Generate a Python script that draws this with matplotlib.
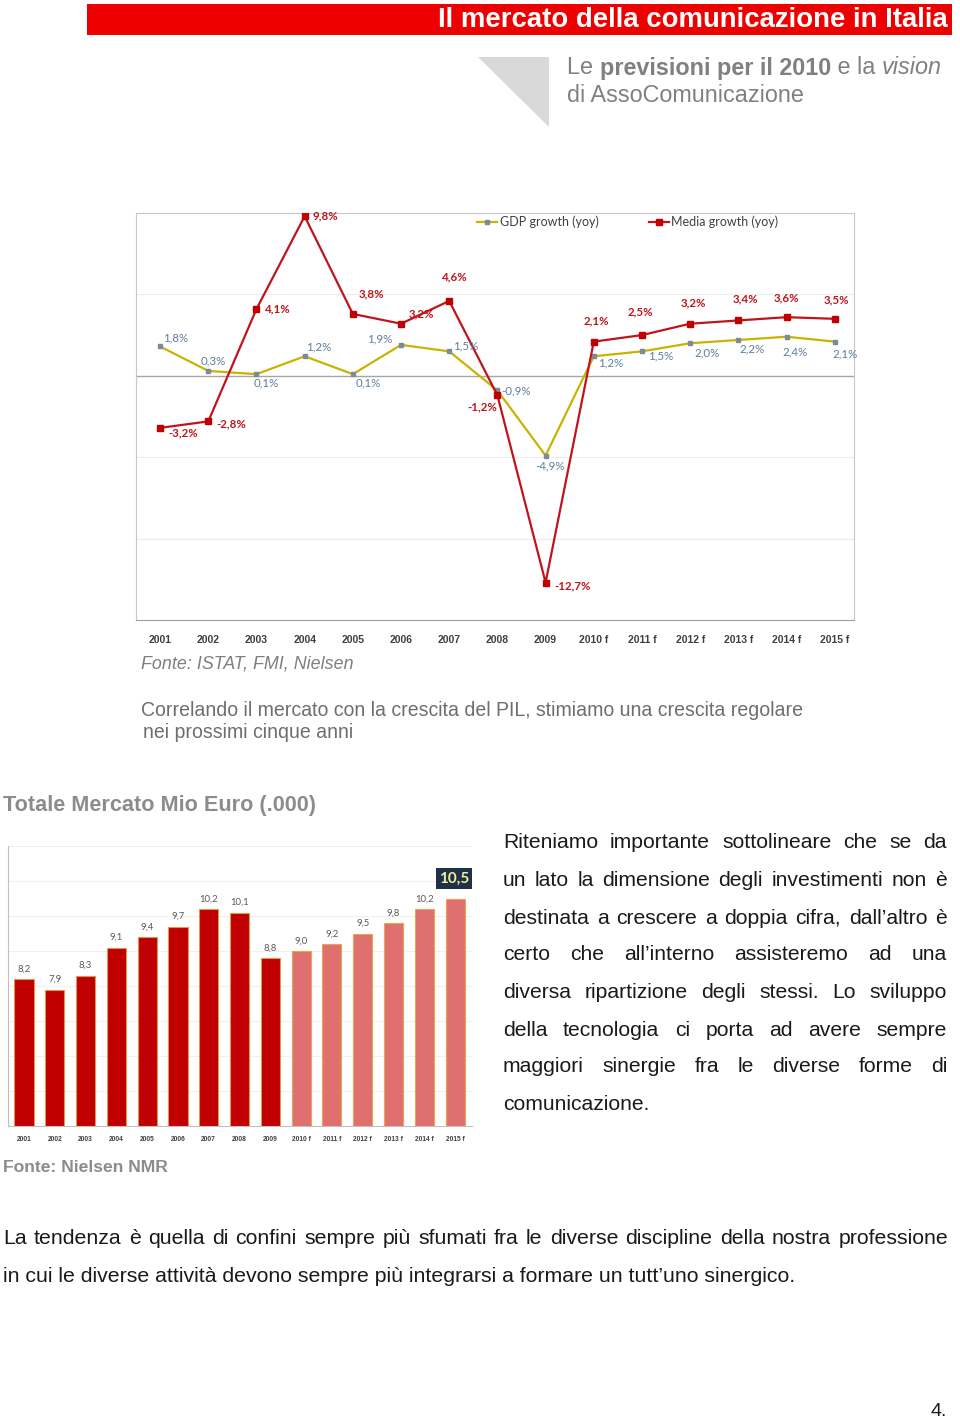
import matplotlib
matplotlib.use("Agg")
import matplotlib.pyplot as plt
from matplotlib import font_manager
from matplotlib.patches import Rectangle, Polygon

# ---------------- data ----------------
years = ["2001", "2002", "2003", "2004", "2005", "2006", "2007", "2008", "2009",
         "2010 f", "2011 f", "2012 f", "2013 f", "2014 f", "2015 f"]
gdp_growth = [1.8, 0.3, 0.1, 1.2, 0.1, 1.9, 1.5, -0.9, -4.9, 1.2, 1.5, 2.0, 2.2, 2.4, 2.1]
media_growth = [-3.2, -2.8, 4.1, 9.8, 3.8, 3.2, 4.6, -1.2, -12.7, 2.1, 2.5, 3.2, 3.4, 3.6, 3.5]
market_values = [8.2, 7.9, 8.3, 9.1, 9.4, 9.7, 10.2, 10.1, 8.8, 9.0, 9.2, 9.5, 9.8, 10.2, 10.5]
n_actual = 9

# label offsets (pixels) for annotations
gdp_off = [(15, 9), (5, 10), (10, -9), (14, 9), (15, -9), (-21, 6), (16, 5), (19, 0), (4, -10),
           (17, -7), (19, -5), (17, -10), (14, -9), (8, -15), (10, -12)]
media_off = [(23, -5), (23, -2), (21, 0), (21, 0), (19, 20), (20, 10), (6, 24), (-15, -12), (27, -3),
             (3, 21), (-2, 23), (3, 21), (7, 22), (0, 19), (2, 19)]

W, H = 960, 1423
fig = plt.figure(figsize=(W / 100, H / 100), dpi=100)
fig.patch.set_facecolor("white")

names = {f.name for f in font_manager.fontManager.ttflist}
NARROW = "Liberation Sans Narrow" if "Liberation Sans Narrow" in names else "Liberation Sans"
SANS = "Liberation Sans"
CAL = "Lato" if "Lato" in names else "DejaVu Sans"

bg = fig.add_axes([0, 0, 1, 1])
bg.set_xlim(0, W)
bg.set_ylim(H, 0)
bg.axis("off")
bg.set_zorder(-1)

renderer = fig.canvas.get_renderer()


def fit_text(x, y, s, width, ha="left", **kw):
    t = bg.text(x, y, s, fontsize=10, ha=ha, **kw)
    w = t.get_window_extent(renderer).width
    t.set_fontsize(10 * width / w)
    return t


def axes_px(x0, y0, x1, y1):
    return fig.add_axes([x0 / W, 1 - y1 / H, (x1 - x0) / W, (y1 - y0) / H])


# ---------------- header ----------------
bg.add_patch(Rectangle((87, 4), 865, 31, facecolor="#EE0000", edgecolor="none"))
fit_text(948, 20, "Il mercato della comunicazione in Italia", 507, ha="right", va="center",
         color="white", family=NARROW, fontweight="bold")
bg.add_patch(Polygon([(478, 57), (549, 57), (549, 127)], closed=True, facecolor="#D9D9D9", edgecolor="none"))

# mixed-style subtitle
segs = [("Le ", "normal", "normal"), ("previsioni per il 2010", "bold", "normal"),
        (" e la ", "normal", "normal"), ("vision", "normal", "italic")]
fs_sub = 16.8
x = 567
for s, wgt, sty in segs:
    t = bg.text(x, 68, s, fontsize=fs_sub, family=NARROW, fontweight=wgt, fontstyle=sty,
                color="#808080", va="center", ha="left")
    x += t.get_window_extent(renderer).width
bg.text(567, 95, "di AssoComunicazione", fontsize=fs_sub, family=NARROW, color="#808080",
        va="center", ha="left")

# ---------------- line chart ----------------
ax = axes_px(136, 213, 854, 620)
xs = list(range(len(years)))
ax.set_xlim(-0.5, 14.4)
ax.set_ylim(-15, 10)
for v in [-15, -10, -5, 5, 10]:
    ax.axhline(v, color="#EBEBEB", lw=0.8, zorder=0)
ax.axhline(0, color="#A6A6A6", lw=1.0, zorder=1)
for sp in ax.spines.values():
    sp.set_color("#C8C8C8")
    sp.set_linewidth(0.8)
ax.spines["bottom"].set_color("#A0A0A0")
ax.set_yticks([])
ax.set_xticks(xs)
ax.set_xticklabels(years, fontsize=7.5, fontweight="bold", color="#404040", family=SANS)
ax.tick_params(axis="x", length=0, pad=11)

ax.plot(xs, gdp_growth, color="#C8B400", lw=1.6, marker="s", ms=3.5, mfc="#7D8B99", mec="#7D8B99",
        zorder=3, label="GDP growth (yoy)")
ax.plot(xs, media_growth, color="#C0141C", lw=1.6, marker="s", ms=4, mfc="#C00000", mec="#C00000",
        zorder=4, label="Media growth (yoy)")

for i, v in enumerate(gdp_growth):
    ax.annotate(f"{v:.1f}%".replace(".", ","), (xs[i], v), xytext=gdp_off[i], textcoords="offset pixels",
                ha="center", va="center", fontsize=8.3, color="#5B7E9E", family=CAL, zorder=5)
for i, v in enumerate(media_growth):
    ax.annotate(f"{v:.1f}%".replace(".", ","), (xs[i], v), xytext=media_off[i], textcoords="offset pixels",
                ha="center", va="center", fontsize=8.3, color="#C0141C", family=CAL, fontweight="bold",
                zorder=5)

leg = ax.legend(loc="center", bbox_to_anchor=(0.685, 0.978), ncol=2, frameon=False,
                handlelength=1.6, columnspacing=4.0, handletextpad=0.2, prop={"family": CAL, "size": 9})
for t in leg.get_texts():
    t.set_color("#404040")

fit_text(141, 664, "Fonte: ISTAT, FMI, Nielsen", 213, va="center", color="#7F7F7F",
         family=SANS, fontstyle="italic")
corr = fit_text(141, 710, "Correlando il mercato con la crescita del PIL, stimiamo una crescita regolare", 663,
                va="center", color="#6E6E6E", family=SANS)
bg.text(143, 733, "nei prossimi cinque anni", va="center", color="#6E6E6E", family=SANS,
        fontsize=corr.get_fontsize())

fit_text(3, 806, "Totale Mercato Mio Euro (.000)", 311, va="center", color="#8C8C8C",
         family=SANS, fontweight="bold")

# ---------------- bar chart ----------------
bx = axes_px(8, 846, 472, 1126)
bx.set_xlim(-0.52, 14.55)
bx.set_ylim(4, 12)
for v in range(5, 13):
    bx.axhline(v, color="#F0F0F0", lw=0.8, zorder=0)
colors = ["#C00000"] * n_actual + ["#E07070"] * (len(years) - n_actual)
edges = ["#D89A50"] * n_actual + ["#EBA550"] * (len(years) - n_actual)
bx.bar(xs, market_values, width=0.62, color=colors, edgecolor=edges, linewidth=0.8, zorder=2)
for sp in ["top", "right"]:
    bx.spines[sp].set_visible(False)
bx.spines["left"].set_color("#BFBFBF")
bx.spines["bottom"].set_color("#BFBFBF")
bx.set_yticks([])
bx.set_xticks(xs)
bx.set_xticklabels(years, fontsize=4.8, fontweight="bold", color="#404040", family=SANS)
bx.tick_params(axis="x", length=0, pad=7)
for i, v in enumerate(market_values):
    lab = f"{v:.1f}".replace(".", ",")
    if i == len(market_values) - 1:
        bx.annotate(lab, (xs[i], v), xytext=(-1, 20), textcoords="offset pixels", ha="center",
                    va="center", fontsize=11, fontweight="bold", color="#F3EE9A", family=CAL,
                    bbox=dict(boxstyle="square,pad=0.2", facecolor="#1F3147", edgecolor="none"))
    else:
        bx.annotate(lab, (xs[i], v), xytext=(0, 10), textcoords="offset pixels", ha="center",
                    va="center", fontsize=6.8, color="#595959", family=CAL)

fit_text(3, 1168, "Fonte: Nielsen NMR", 165, va="center", color="#8C8C8C", family=SANS, fontweight="bold")


# ---------------- justified paragraphs ----------------
def justify(lines, x0, x1, ys, fs, color):
    for k, (line, y) in enumerate(zip(lines, ys)):
        words = line.split()
        if k == len(lines) - 1:
            bg.text(x0, y, line, fontsize=fs, family=SANS, color=color, va="center", ha="left")
            continue
        texts = [bg.text(0, y, w, fontsize=fs, family=SANS, color=color, va="center", ha="left")
                 for w in words]
        widths = [tt.get_window_extent(renderer).width for tt in texts]
        gap = (x1 - x0 - sum(widths)) / max(len(words) - 1, 1)
        xx = x0
        for tt, ww in zip(texts, widths):
            tt.set_x(xx)
            xx += ww + gap


para = ["Riteniamo importante sottolineare che se da",
        "un lato la dimensione degli investimenti non è",
        "destinata a crescere a doppia cifra, dall’altro è",
        "certo che all’interno assisteremo ad una",
        "diversa ripartizione degli stessi. Lo sviluppo",
        "della tecnologia ci porta ad avere sempre",
        "maggiori sinergie fra le diverse forme di",
        "comunicazione."]
para_y = [843, 880, 918, 955, 992, 1030, 1067, 1104]
justify(para, 503, 947, para_y, 15.2, "#1A1A1A")

bottom = ["La tendenza è quella di confini sempre più sfumati fra le diverse discipline della nostra professione",
          "in cui le diverse attività devono sempre più integrarsi a formare un tutt’uno sinergico."]
justify(bottom, 3, 948, [1238, 1276], 15.3, "#1A1A1A")

bg.text(947, 1412, "4.", fontsize=14, family=SANS, color="#1A1A1A", va="center", ha="right")

fig.savefig("out.png", dpi=100)
